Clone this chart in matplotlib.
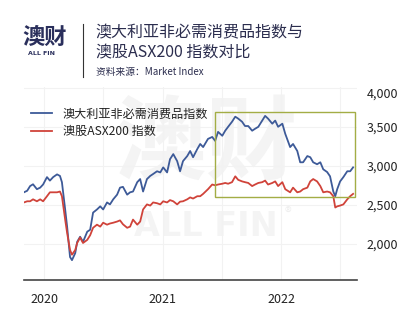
import numpy as np
import pandas as pd
import matplotlib
matplotlib.use("Agg")
import matplotlib.pyplot as plt
import matplotlib.dates as mdates
from matplotlib.patches import Rectangle

plt.rcParams['font.family'] = ['Noto Sans CJK SC', 'DejaVu Sans']

## data
dates = ["2019-10-31", "2019-11-10", "2019-11-19", "2019-11-28", "2019-12-10", "2019-12-20",
         "2019-12-29", "2020-01-10", "2020-01-19", "2020-01-29", "2020-02-10", "2020-02-19",
         "2020-02-25", "2020-03-06", "2020-03-12", "2020-03-21", "2020-03-27", "2020-04-06",
         "2020-04-12", "2020-04-21", "2020-04-30", "2020-05-13", "2020-05-22", "2020-05-31",
         "2020-06-12", "2020-06-22", "2020-07-01", "2020-07-13", "2020-07-22", "2020-08-01",
         "2020-08-13", "2020-08-22", "2020-08-31", "2020-09-13", "2020-09-22", "2020-10-01",
         "2020-10-14", "2020-10-23", "2020-11-01", "2020-11-13", "2020-11-23", "2020-12-02",
         "2020-12-14", "2020-12-24", "2021-01-02", "2021-01-14", "2021-01-23", "2021-02-02",
         "2021-02-14", "2021-02-23", "2021-03-04", "2021-03-17", "2021-03-26", "2021-04-04",
         "2021-04-17", "2021-04-26", "2021-05-05", "2021-05-20", "2021-06-02", "2021-06-11",
         "2021-06-20", "2021-07-03", "2021-07-12", "2021-07-21", "2021-08-02", "2021-08-12",
         "2021-08-21", "2021-09-02", "2021-09-11", "2021-09-21", "2021-10-03", "2021-10-12",
         "2021-10-22", "2021-11-03", "2021-11-12", "2021-11-21", "2021-12-04", "2021-12-13",
         "2021-12-22", "2022-01-04", "2022-01-13", "2022-01-28", "2022-02-06", "2022-02-19",
         "2022-02-28", "2022-03-09", "2022-03-22", "2022-03-31", "2022-04-09", "2022-04-21",
         "2022-05-01", "2022-05-10", "2022-05-22", "2022-05-31", "2022-06-10", "2022-06-16",
         "2022-06-22", "2022-07-01", "2022-07-11", "2022-07-23", "2022-08-01", "2022-08-10"]

consumer_disc = [2660, 2680, 2740, 2763, 2700, 2720, 2760, 2855, 2810, 2855, 2890, 2870,
                 2790, 2440, 2220, 1830, 1790, 1880, 2025, 2090, 2025, 2155, 2180, 2400,
                 2440, 2480, 2440, 2530, 2505, 2570, 2630, 2720, 2730, 2630, 2660, 2670,
                 2790, 2830, 2670, 2830, 2870, 2895, 2930, 2915, 2980, 2915, 3085, 3150,
                 3060, 2930, 3060, 3125, 3190, 3110, 3215, 3280, 3240, 3345, 3370, 3320,
                 3435, 3385, 3450, 3500, 3565, 3630, 3605, 3565, 3510, 3510, 3450, 3475,
                 3500, 3580, 3640, 3605, 3540, 3580, 3500, 3540, 3410, 3240, 3280, 3190,
                 3045, 3045, 3125, 3110, 3045, 3020, 3045, 2955, 2920, 2865, 2670, 2610,
                 2700, 2800, 2855, 2930, 2930, 2980]

asx200 = [2530, 2545, 2545, 2570, 2545, 2570, 2545, 2610, 2660, 2660, 2660, 2670,
          2610, 2310, 2140, 1920, 1860, 1920, 2010, 2080, 2010, 2050, 2110, 2205,
          2245, 2220, 2270, 2245, 2260, 2270, 2285, 2300, 2250, 2205, 2220, 2310,
          2245, 2285, 2440, 2505, 2490, 2530, 2520, 2505, 2545, 2530, 2560, 2545,
          2505, 2540, 2545, 2570, 2595, 2580, 2610, 2610, 2640, 2700, 2760, 2750,
          2760, 2770, 2780, 2770, 2790, 2865, 2820, 2800, 2790, 2780, 2740, 2760,
          2780, 2790, 2810, 2760, 2780, 2800, 2740, 2790, 2700, 2660, 2720, 2660,
          2670, 2700, 2720, 2800, 2830, 2800, 2740, 2660, 2670, 2660, 2610, 2465,
          2480, 2490, 2505, 2570, 2610, 2640]

labels = ["澳大利亚非必需消费品指数", "澳股ASX200 指数"]
year_ticks = ["2020-01-01", "2021-01-01", "2022-01-01"]
year_labels = ["2020", "2021", "2022"]
grid_months = ["2020-01-01", "2020-07-01", "2021-01-01", "2021-07-01", "2022-01-01", "2022-07-01"]
y_ticks = [2000, 2500, 3000, 3500, 4000]
box_start, box_end = "2021-06-11", "2022-08-16"
box_low, box_high = 2595, 3695

x = pd.to_datetime(dates)

fig = plt.figure(figsize=(4.2, 3.26), dpi=100)
ax = fig.add_axes([0.057, 0.141, 0.793, 0.592])

## faint watermark behind the lines (drawn inside the axes so it stays underneath)
ax.text(0.49, 0.555, "澳财", transform=fig.transFigure, fontsize=66, fontweight='bold',
        color='#f4f4f4', ha='center', va='center', zorder=0)
ax.text(0.49, 0.305, "ALL FIN", transform=fig.transFigure, fontsize=24, fontweight='bold',
        color='#f4f4f4', ha='center', va='center', family='DejaVu Sans', zorder=0)
ax.text(0.685, 0.345, "®", transform=fig.transFigure, fontsize=10, color='#efefef',
        ha='center', va='center', zorder=0)

for g in grid_months:
    ax.axvline(pd.Timestamp(g), color='#f2f2f2', lw=0.8, zorder=0.5)
for t in y_ticks:
    ax.axhline(t, color='#f2f2f2', lw=0.8, zorder=0.5)

ax.plot(x, consumer_disc, color='#3d5a98', lw=1.3, label=labels[0], zorder=3)
ax.plot(x, asx200, color='#d0433a', lw=1.3, label=labels[1], zorder=3)

x0 = mdates.date2num(pd.Timestamp(box_start))
x1 = mdates.date2num(pd.Timestamp(box_end))
ax.add_patch(Rectangle((x0, box_low), x1 - x0, box_high - box_low, fill=False,
                       edgecolor='#a3ad45', lw=1.0, zorder=4))

ax.set_xlim(pd.Timestamp("2019-10-31"), pd.Timestamp("2022-08-22"))
ax.set_ylim(1535, 4010)
ax.set_yticks(y_ticks)
ax.set_yticklabels([f"{v:,}" for v in y_ticks])
ax.yaxis.tick_right()
ax.get_yticklabels()[-1].set_va('top')
ax.set_xticks(pd.to_datetime(year_ticks))
ax.set_xticklabels(year_labels)
ax.tick_params(axis='both', length=0, labelsize=9, colors='#222222')
ax.tick_params(axis='y', pad=7)
ax.tick_params(axis='x', pad=9)
for s in ['top', 'left', 'right']:
    ax.spines[s].set_visible(False)
ax.spines['bottom'].set_color('#444444')
ax.spines['bottom'].set_linewidth(1.2)

leg = ax.legend(loc='upper left', bbox_to_anchor=(-0.01, 0.95), frameon=False,
                fontsize=8.7, handlelength=1.7, handletextpad=0.9, labelspacing=0.35)
for t in leg.get_texts():
    t.set_color('#222222')

## header: logo, divider, title
fig.text(0.053, 0.885, "澳财", fontsize=16, fontweight='bold', color='#2a2f5c',
         ha='left', va='center')
fig.text(0.066, 0.835, "ALL FIN", fontsize=4.5, fontweight='bold', color='#2a2f5c',
         ha='left', va='center', family='DejaVu Sans')
fig.add_artist(plt.Line2D([0.198, 0.198], [0.765, 0.925], color='#333333', lw=0.8))
fig.text(0.228, 0.898, "澳大利亚非必需消费品指数与", fontsize=11.5, color='#2b2d4e',
         ha='left', va='center')
fig.text(0.228, 0.837, "澳股ASX200 指数对比", fontsize=11.5, color='#2b2d4e',
         ha='left', va='center')
fig.text(0.228, 0.778, "资料来源：Market Index", fontsize=7, color='#2b2d4e',
         ha='left', va='center')

fig.savefig("out.png", dpi=100)
